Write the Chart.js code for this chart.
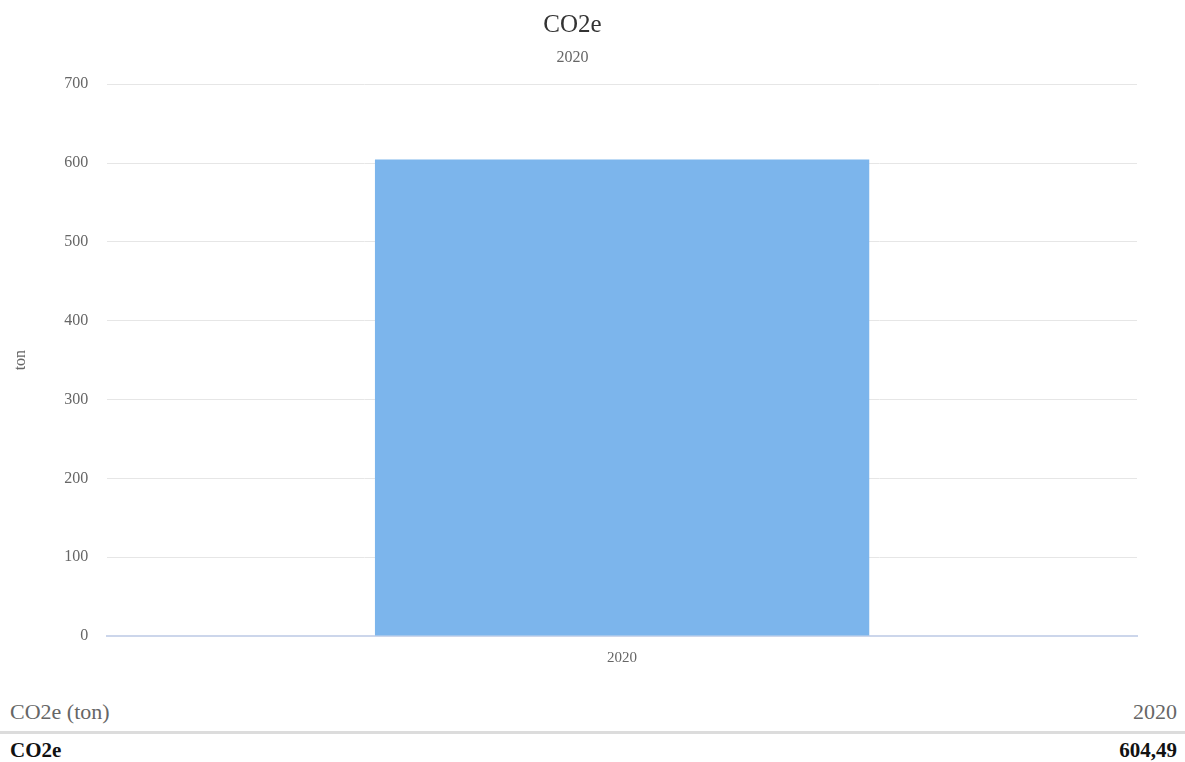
<!DOCTYPE html>
<html>
<head>
<meta charset="utf-8">
<script src="https://cdn.jsdelivr.net/npm/chart.js@4"></script>
<style>
  body { margin: 0; background: #fff; font-family: "Liberation Serif", serif; }
  #wrap { position: relative; width: 1185px; height: 680px; }
  #tbl { position: absolute; left: 0; top: 696px; width: 1185px; }
  .row { display: flex; justify-content: space-between; padding: 0 8px 0 10px; }
  .head { font-size: 22px; color: #666; line-height: 32px; border-bottom: 3px solid #dcdcdc; box-sizing: border-box; height: 38px; }
  .body { font-size: 21px; color: #111; font-weight: bold; line-height: 32px; }
</style>
</head>
<body>
<div id="wrap"><canvas id="chart"></canvas></div>
<div id="tbl"></div>
<script>
const categories = ['2020'];
const co2eValues = [604.49];
const seriesName = 'CO2e';
const unit = 'ton';
const yTicks = [0, 100, 200, 300, 400, 500, 600, 700];

// tabel onder de grafiek
const tbl = document.getElementById("tbl");
tbl.innerHTML =
    `<div class="row head"><span>${seriesName} (${unit})</span><span>${categories.join(' ')}</span></div>` +
    `<div class="row body"><span>${seriesName}</span><span>${co2eValues.map(v => v.toFixed(2).replace('.', ',')).join(' ')}</span></div>`;

const serif = "'Liberation Serif', serif";

let chart = new Chart(document.getElementById("chart"), {
    type: 'bar',
    data: {
        labels: categories,
        datasets: [{
            label: seriesName,
            data: co2eValues,
            backgroundColor: '#7cb5ec',
            categoryPercentage: 0.6,
            barPercentage: 0.8
        }]
    },
    options: {
        responsive: true,
        maintainAspectRatio: false,
        animation: false,
        layout: {
            padding: { top: 8, right: 48, left: 8, bottom: 8 }
        },
        plugins: {
            legend: { display: false },
            tooltip: { enabled: false },
            title: {
                display: true,
                text: seriesName,
                color: '#333',
                font: { family: serif, size: 25, weight: 'normal' },
                padding: { top: 2, bottom: 8 }
            },
            subtitle: {
                display: true,
                text: categories[0],
                color: '#666',
                font: { family: serif, size: 16 },
                padding: { top: 0, bottom: 17 }
            }
        },
        scales: {
            x: {
                grid: { display: false },
                border: { color: '#ccd6eb', width: 2 },
                ticks: {
                    color: '#666',
                    font: { family: serif, size: 15 },
                    padding: 5
                }
            },
            y: {
                min: 0,
                max: 700,
                afterBuildTicks: (axis) => {
                    axis.ticks = yTicks.map(v => ({ value: v }));
                },
                grid: { color: '#e6e6e6', drawTicks: false },
                border: { display: false },
                ticks: {
                    color: '#666',
                    font: { family: serif, size: 16 },
                    padding: 19
                },
                title: {
                    display: true,
                    text: unit,
                    color: '#666',
                    font: { family: serif, size: 16 },
                    padding: { top: 3, bottom: 15 }
                }
            }
        }
    }
});
</script>
</body>
</html>
